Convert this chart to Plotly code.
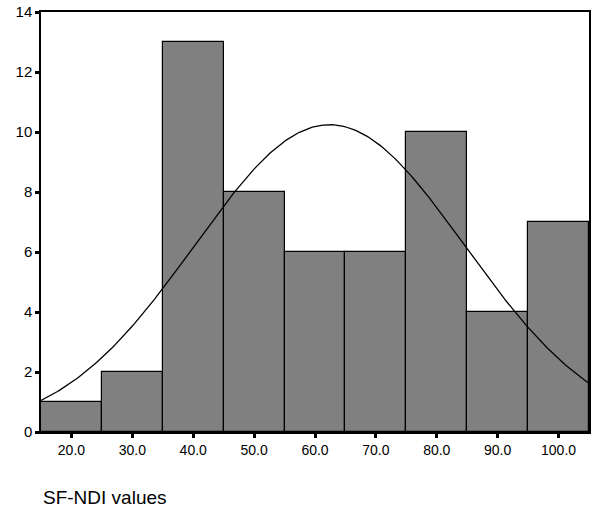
import numpy as np
import plotly.graph_objects as go

# Histogram bins (centres) and counts
bin_centres = [20, 30, 40, 50, 60, 70, 80, 90, 100]
counts = [1, 2, 13, 8, 6, 6, 10, 4, 7]
tick_labels = ["20.0", "30.0", "40.0", "50.0", "60.0", "70.0", "80.0", "90.0", "100.0"]

# Normal curve parameters
curve_mean = 62.4
curve_sd = 22.2
bin_width = 10

n = sum(counts)
xs = np.linspace(15, 105, 300)
ys = n * bin_width / (curve_sd * np.sqrt(2 * np.pi)) * np.exp(-0.5 * ((xs - curve_mean) / curve_sd) ** 2)

fig = go.Figure()

fig.add_trace(
    go.Bar(
        x=bin_centres,
        y=counts,
        width=bin_width,
        marker=dict(color="#808080", line=dict(color="black", width=1.2)),
        showlegend=False,
    )
)

fig.add_trace(
    go.Scatter(
        x=xs,
        y=ys,
        mode="lines",
        line=dict(color="black", width=1.3),
        showlegend=False,
    )
)

fig.update_layout(
    width=600,
    height=508,
    # no autoexpand, otherwise the "14" label pushes the top down
    margin=dict(l=41, r=11, t=12, b=76, autoexpand=False),
    plot_bgcolor="white",
    paper_bgcolor="white",
    font=dict(family="Liberation Sans, Arial, sans-serif", color="black", size=13),
    bargap=0,
)

fig.update_xaxes(
    range=[15, 105],
    tickvals=bin_centres,
    ticktext=tick_labels,
    ticks="outside",
    ticklen=4,
    tickwidth=3,
    tickcolor="black",
    showline=True,
    linecolor="black",
    linewidth=1.5,
    mirror=True,
    showgrid=False,
    zeroline=False,
    tickfont=dict(size=14),
)

fig.update_yaxes(
    range=[0, 14],
    tickvals=[0, 2, 4, 6, 8, 10, 12, 14],
    ticks="outside",
    ticklen=4,
    tickwidth=3,
    tickcolor="black",
    showline=True,
    linecolor="black",
    linewidth=1.5,
    mirror=True,
    showgrid=False,
    zeroline=False,
    tickfont=dict(size=15),
)

fig.add_annotation(
    text="SF-NDI values",
    xref="paper",
    yref="paper",
    x=0,
    y=-0.155,
    xanchor="left",
    yanchor="middle",
    showarrow=False,
    font=dict(size=19),
)

# page margin off so the 600x508 figure sits in the corner of the window
fig.write_html(
    "out.html",
    config={"displayModeBar": False},
    post_script="document.body.style.margin='0';",
)
